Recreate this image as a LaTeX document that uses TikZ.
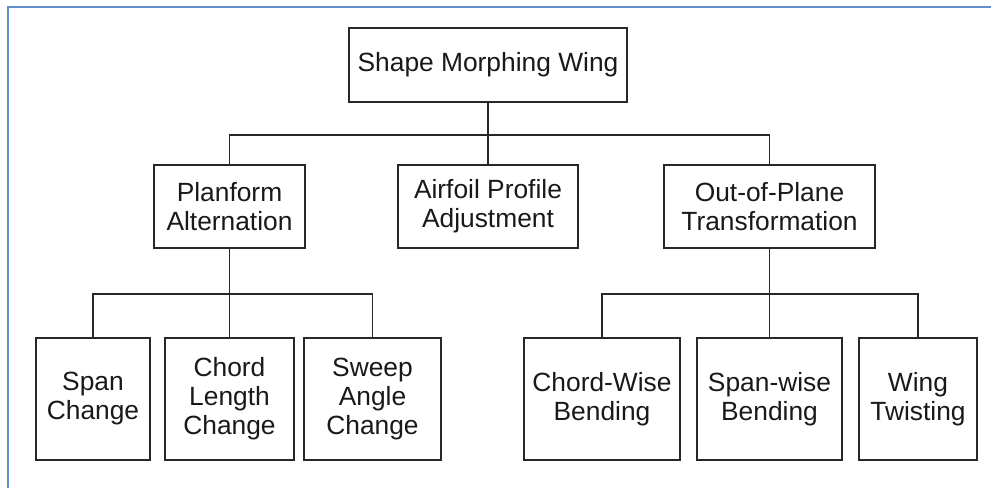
\documentclass[tikz,border=0pt]{standalone}
\usepackage{fontspec}
\newfontfamily\boxfont{Liberation Sans}
\definecolor{frameblue}{RGB}{98, 141, 205}
\definecolor{boxline}{RGB}{40, 40, 40}
\usetikzlibrary{positioning, calc}

\begin{document}
\begin{tikzpicture}[
  x=0.02cm, y=-0.02cm,
  box/.style={draw=boxline, line width=1.1pt, align=center, inner sep=0pt, text=black!90, font=\boxfont\fontsize{15}{16.5}\selectfont},
  lvltwo/.style={box, minimum height=1.66cm},
  lvlthree/.style={box, minimum height=2.44cm},
  link/.style={draw=boxline, line width=1.1pt}
]
  \useasboundingbox (0,0) rectangle (991,488);
  \fill[white] (0,0) rectangle (991,488);
  % outer frame, cut off at the right and bottom
  \draw[frameblue, line width=0.7pt] (8,488) -- (8,7) -- (991,7);

  \node[box, minimum width=5.56cm, minimum height=1.48cm] (root) at (488,65) {Shape Morphing Wing};

  \node[lvltwo, minimum width=3.02cm] (planform) at (229.5,206.5) {Planform\\Alternation};
  \node[lvltwo, minimum width=3.60cm] (airfoil) at (488,206.5) {Airfoil Profile\\Adjustment};
  \node[lvltwo, minimum width=4.22cm] (outplane) at (769.5,206.5) {Out-of-Plane\\Transformation};

  \node[lvlthree, minimum width=2.28cm] (span) at (93,399) {Span\\Change};
  \node[lvlthree, minimum width=2.58cm] (chordlen) at (229.5,399) {Chord\\Length\\Change};
  \node[lvlthree, minimum width=2.74cm] (sweep) at (372.5,399) {Sweep\\Angle\\Change};

  \node[lvlthree, minimum width=3.12cm] (chordwise) at (602,399) {Chord-Wise\\Bending};
  \node[lvlthree, minimum width=2.90cm] (spanwise) at (769.5,399) {Span-wise\\Bending};
  \node[lvlthree, minimum width=2.36cm] (twist) at (918,399) {Wing\\Twisting};

  % bus lines
  \coordinate (busA) at (root.south |- 0,135);
  \coordinate (busB) at (planform.south |- 0,294);
  \coordinate (busC) at (outplane.south |- 0,294);

  \draw[link] (root.south) -- (busA);
  \draw[link] (planform.north) |- (busA) -| (outplane.north);
  \draw[link] (busA) -- (airfoil.north);

  \draw[link] (planform.south) -- (busB);
  \draw[link] (span.north) |- (busB) -| (sweep.north);
  \draw[link] (busB) -- (chordlen.north);

  \draw[link] (outplane.south) -- (busC);
  \draw[link] (chordwise.north) |- (busC) -| (twist.north);
  \draw[link] (busC) -- (spanwise.north);
\end{tikzpicture}
\end{document}
